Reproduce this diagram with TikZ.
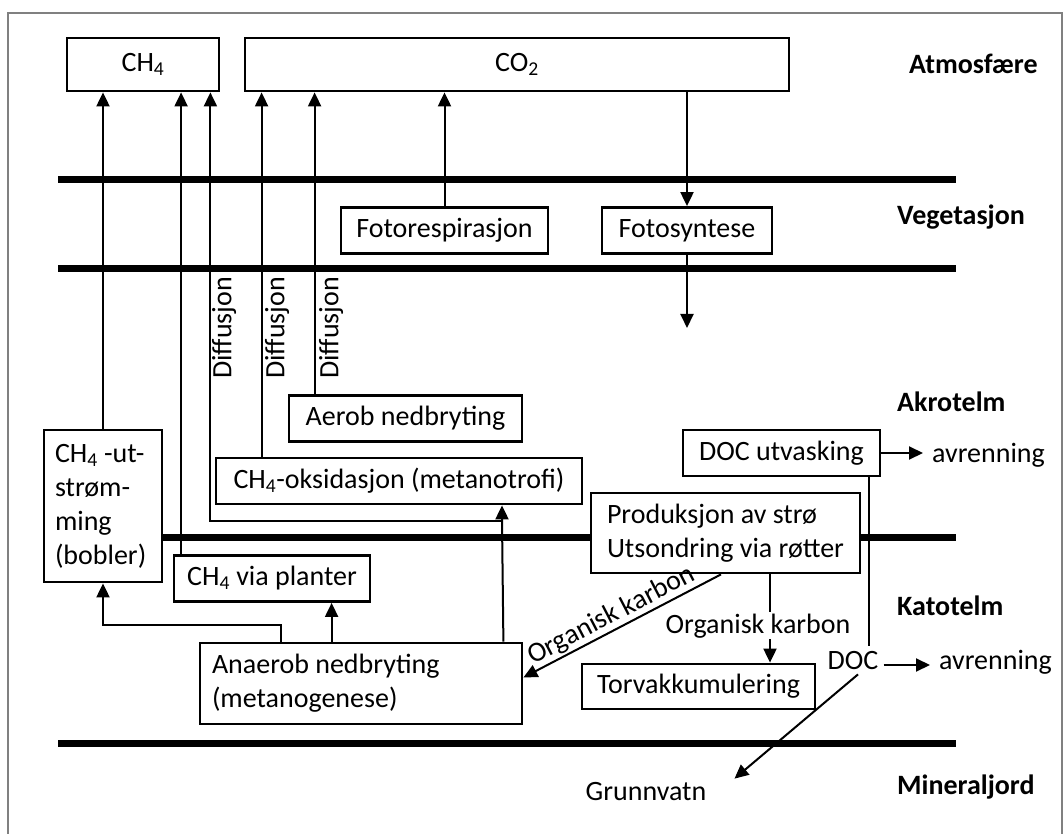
\documentclass[tikz,border=0pt]{standalone}
\usepackage{fontspec}
\setmainfont{Carlito}
\usetikzlibrary{arrows.meta}
\tikzset{
box/.style={draw, line width=2.8pt, fill=white, inner sep=4pt, minimum height=46pt},
lbox/.style={box, execute at begin node={\raggedright\spaceskip=0pt\relax}},
arr/.style={line width=2pt, -{Triangle[length=14pt,width=13pt]}},
con/.style={line width=2pt},
layer/.style={line width=7pt},
zone/.style={font=\fontsize{28}{34}\selectfont\bfseries, anchor=mid west, inner sep=0pt}
}

\begin{document}
\begin{tikzpicture}[x=1pt, y=-1pt, every node/.style={font=\fontsize{28}{34}\selectfont, inner sep=4pt}]
\useasboundingbox (0,0) rectangle (1063,834);
\draw[gray, line width=2pt] (8,834) -- (8,13) -- (1062,13) -- (1062,834);
\draw[layer] (58,180) -- (956,180);
\draw[layer] (58,269) -- (956,269);
\draw[layer] (58,537) -- (956,537);
\draw[layer] (58,743) -- (956,743);
\node[box, minimum width=152pt, minimum height=53pt] (ch4) at (143,64.5) {CH\textsubscript{4}};
\node[box, minimum width=544pt, minimum height=53pt] (co2) at (517,64.5) {CO\textsubscript{2}};
\node[box, minimum width=207pt] (fotoresp) at (444.5,230.5) {Fotorespirasjon};
\node[box, minimum width=170pt] (fotosyn) at (687,230.5) {Fotosyntese};
\node[box, minimum width=233pt] (aerob) at (405.5,418.5) {Aerob nedbryting};
\node[box, minimum width=366pt] (oks) at (399,481) {CH\textsubscript{4}-oksidasjon (metanotrofi)};
\node[lbox, text width=96pt, inner xsep=11pt, minimum height=152pt] (utstr) at (103,506) {CH\textsubscript{4} -ut-\\strøm-\\ming\\(bobler)};
\node[box, minimum width=196pt] (planter) at (272,578.5) {CH\textsubscript{4} via planter};
\node[lbox, text width=298pt, inner xsep=12pt, minimum height=81pt] (anaerob) at (361,683.5) {Anaerob nedbryting\\(metanogenese)};
\node[box, minimum width=197pt] (docutv) at (781.5,453) {DOC utvasking};
\node[box, minimum width=269pt, minimum height=80pt, align=left] (prod) at (725.5,533) {Produksjon av strø\\Utsondring via røtter};
\node[box, minimum width=233pt, minimum height=45pt] (torv) at (698.5,686.5) {Torvakkumulering};
\node[zone] (atmos) at (909,71) {Atmosfære};
\node[zone] (veget) at (897,222) {Vegetasjon};
\node[zone] (akro) at (897,409) {Akrotelm};
\node[zone] (kato) at (897,613) {Katotelm};
\node[zone] (miner) at (897,792) {Mineraljord};
\node[rotate=90, inner sep=0pt] (diff1) at (224,328) {Diffusjon};
\node[rotate=90, inner sep=0pt] (diff2) at (277,328) {Diffusjon};
\node[rotate=90, inner sep=0pt] (diff3) at (331,328) {Diffusjon};
\node[anchor=base west, inner xsep=9pt] (avr1) at (923,462) {avrenning};
\node[anchor=base, inner sep=5pt] (doc) at (853,669) {DOC};
\node[anchor=base west, inner xsep=9pt] (avr2) at (930,669) {avrenning};
\node (grunn) at (646,792) {Grunnvatn};
\coordinate (split) at (502,521);
\coordinate (fdown) at (690,328);
\coordinate (c1) at ([xshift=8.5pt]planter.north west);
\coordinate (c2) at ([xshift=-10pt]ch4.south east);
\coordinate (c3) at ([xshift=47pt]oks.north west);
\coordinate (c4) at ([xshift=27pt]aerob.north west);
\coordinate (a1) at ([xshift=82pt]anaerob.north west);
\coordinate (a2) at ([xshift=133pt]anaerob.north west);
\coordinate (a3) at ([xshift=-20pt]anaerob.north east);
\coordinate (pk) at ([xshift=44.5pt]prod.south);
\coordinate (docx) at ([xshift=-12pt]docutv.south east);
\draw[arr] (utstr.north) -- (utstr.north |- ch4.south);
\draw[arr] (c1) -- (c1 |- ch4.south);
\draw[arr] (a3) -- (split) -- (split |- oks.south);
\draw[arr] (split) -| (c2);
\draw[arr] (c3) -- (c3 |- co2.south);
\draw[arr] (c4) -- (c4 |- co2.south);
\draw[arr] (fotoresp.north) -- (fotoresp.north |- co2.south);
\draw[arr] (co2.south -| fotosyn.north) -- (fotosyn.north);
\draw[arr] (fotosyn.south) -- (fotosyn.south |- fdown);
\draw[arr] (a1) -- ++(0,-17) -| (utstr.south);
\draw[arr] (a2) -- (a2 |- planter.south);
\draw[arr] (pk) -- (pk |- torv.north);
\node[fill=white, inner sep=1.5pt, anchor=base] (orgk) at (758,633) {Organisk karbon};
\draw[arr] ([xshift=-4.5pt]prod.south) -- ([yshift=6pt]anaerob.east) node[pos=0.52, sloped, above, inner sep=1pt] (orgk2) {Organisk karbon};
\draw[con] (docx) -- (docx |- doc.north);
\draw[arr] (docutv.east) -- (docutv.east -| avr1.west);
\draw[arr] ([yshift=4pt]doc.base east) -- ([yshift=4pt]avr2.base west);
\draw[arr] ([xshift=5pt]doc.south) -- ([xshift=24pt]grunn.north east);
\end{tikzpicture}
\end{document}
